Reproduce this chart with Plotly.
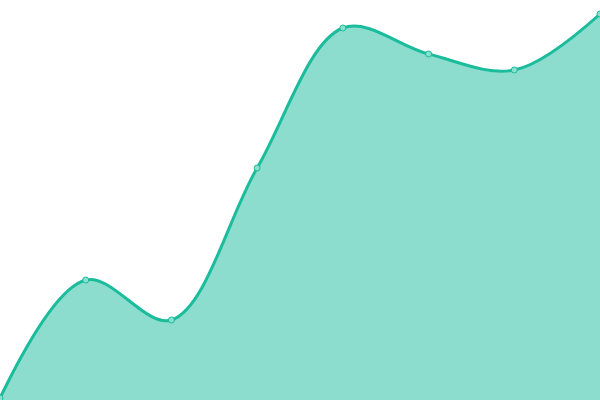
import plotly.graph_objects as go

# data
x_vals = [0, 1, 2, 3, 4, 5, 6, 7]
y_vals = [0.5, 30, 20, 58, 93, 86.5, 82.5, 96.5]

fig = go.Figure()

fig.add_trace(go.Scatter(
    x=x_vals, y=y_vals,
    mode="lines+markers",
    line=dict(color="#1abc9c", width=3, shape="spline", smoothing=1),
    marker=dict(size=6, color="#8ae0cf", line=dict(color="#1abc9c", width=1)),
    fill="tozeroy", fillcolor="rgba(26,188,156,0.5)",
    cliponaxis=False,
    hoverinfo="skip",
))

fig.update_layout(
    width=600, height=400,
    margin=dict(l=0, r=0, t=0, b=0),
    paper_bgcolor="white", plot_bgcolor="white",
    showlegend=False,
    xaxis=dict(visible=False, range=[0, 7]),
    yaxis=dict(visible=False, range=[0, 100]),
)

# page body has a default 8px margin; remove it so the chart sits flush
fig.write_html("out.html", config={"displayModeBar": False},
               post_script="document.body.style.margin='0';")
